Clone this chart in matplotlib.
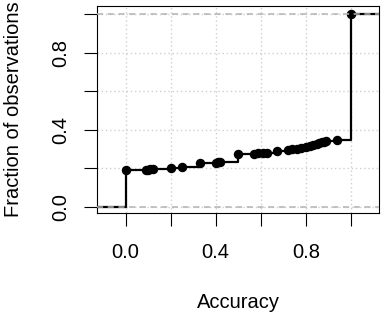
import matplotlib
matplotlib.use("Agg")
import matplotlib.pyplot as plt

plt.rcParams['font.family'] = ['Liberation Sans', 'DejaVu Sans']

# ECDF of accuracy: observation values and cumulative fraction at each
accuracy = [0.0, 0.09, 0.10, 0.11, 0.12, 0.20, 0.25, 0.33, 0.40, 0.41, 0.42,
            0.50, 0.57, 0.59, 0.61, 0.63, 0.67, 0.72, 0.74, 0.76, 0.78, 0.80,
            0.82, 0.83, 0.85, 0.86, 0.87, 0.88, 0.89, 0.94, 1.0]
fraction = [0.190, 0.191, 0.193, 0.194, 0.195, 0.200, 0.208, 0.225, 0.229,
            0.231, 0.233, 0.274, 0.276, 0.277, 0.278, 0.279, 0.291, 0.295,
            0.298, 0.301, 0.305, 0.310, 0.315, 0.320, 0.325, 0.330, 0.334,
            0.338, 0.341, 0.347, 1.0]
ticks = [0.0, 0.2, 0.4, 0.6, 0.8, 1.0]
tick_labels = ['0.0', '', '0.4', '', '0.8', '']

xmin, xmax = -0.126, 1.124
ymin, ymax = -0.034, 1.043
fs = 14.5

fig = plt.figure(figsize=(3.82, 3.14), dpi=100)
ax = fig.add_axes([0.2547, 0.3207, 0.7367, 0.6602])

for t in ticks:
    ax.axvline(t, color='#cfcfcf', lw=1.0, ls=(0, (1, 2)), zorder=0)
    ax.axhline(t, color='#cfcfcf', lw=1.0, ls=(0, (1, 2)), zorder=0)

# step function, with tails out to the plot edges
sx = [xmin] + accuracy + [xmax]
sy = [0.0] + fraction + [fraction[-1]]
ax.step(sx, sy, where='post', color='black', lw=1.6, zorder=2)
ax.plot(accuracy, fraction, 'o', color='black', ms=5.8, zorder=3)

# reference lines at 0 and 1 drawn over the tails
ax.axhline(0, color='#b3b3b3', lw=1.1, ls=(0, (4, 3)), zorder=4)
ax.axhline(1, color='#b3b3b3', lw=1.1, ls=(0, (4, 3)), zorder=4)

ax.set_xlim(xmin, xmax)
ax.set_ylim(ymin, ymax)
ax.set_xticks(ticks)
ax.set_xticklabels(tick_labels)
ax.set_yticks(ticks)
ax.set_yticklabels(tick_labels, rotation=90, va='center')
ax.tick_params(axis='both', length=9.5, width=0.8, labelsize=fs, color='black')
ax.tick_params(axis='x', pad=12)
ax.tick_params(axis='y', pad=10)
for s in ax.spines.values():
    s.set_linewidth(0.8)

ax.set_xlabel('Accuracy', fontsize=fs)
ax.xaxis.set_label_coords(0.5, -0.428)
ax.xaxis.label.set_va('center')
ax.set_ylabel('Fraction of observations', fontsize=fs)
ax.yaxis.set_label_coords(-0.296, 0.5)
ax.yaxis.label.set_va('center')

fig.savefig('out.png', dpi=100)
